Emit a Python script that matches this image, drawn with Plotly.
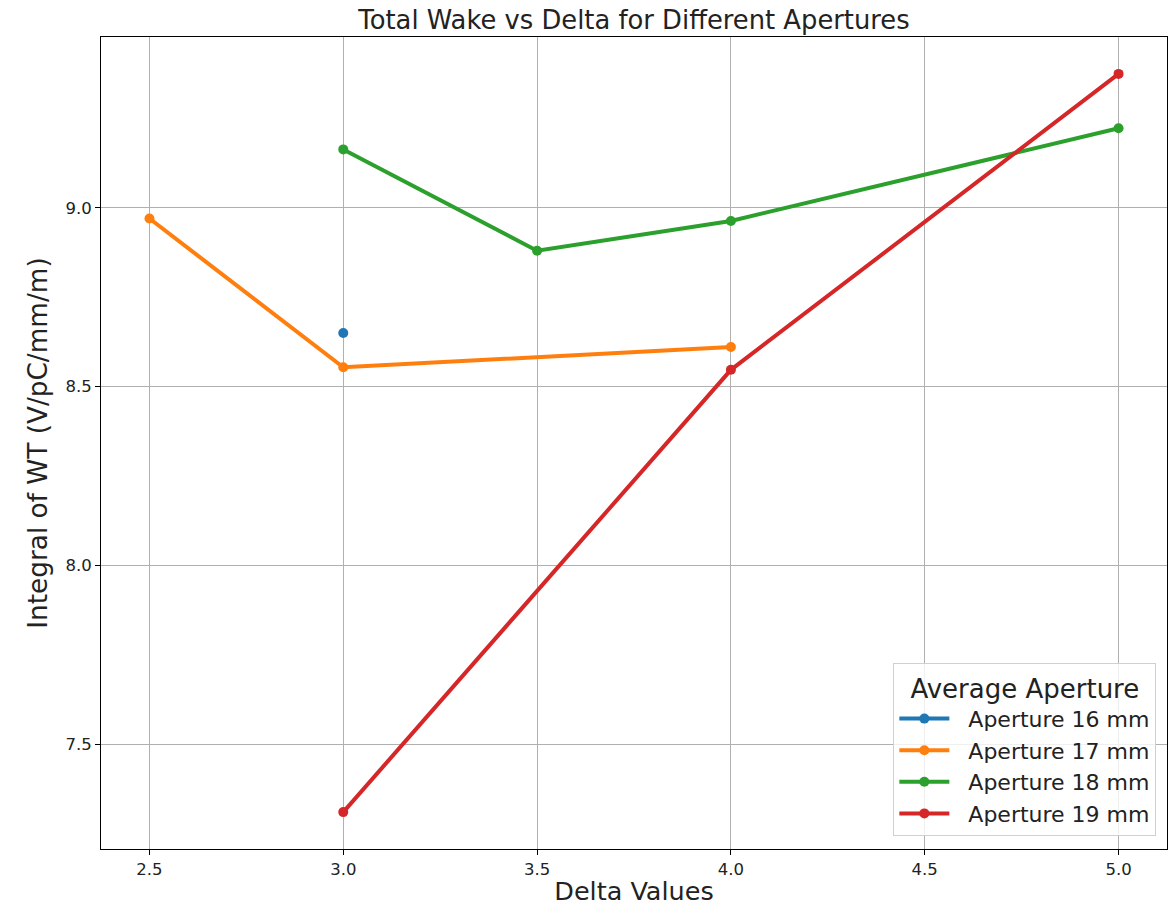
import plotly.graph_objects as go

# Wake integral per aperture, sampled at several delta values
delta_16 = [3.0]
wake_16 = [8.65]

delta_17 = [2.5, 3.0, 4.0]
wake_17 = [8.97, 8.554, 8.611]

delta_18 = [3.0, 3.5, 4.0, 5.0]
wake_18 = [9.163, 8.88, 8.963, 9.222]

delta_19 = [3.0, 4.0, 5.0]
wake_19 = [7.311, 8.547, 9.374]

series = [
    ("Aperture 16 mm", delta_16, wake_16, "#1f77b4"),
    ("Aperture 17 mm", delta_17, wake_17, "#ff7f0e"),
    ("Aperture 18 mm", delta_18, wake_18, "#2ca02c"),
    ("Aperture 19 mm", delta_19, wake_19, "#d62728"),
]

x_ticks = [2.5, 3.0, 3.5, 4.0, 4.5, 5.0]
y_ticks = [7.5, 8.0, 8.5, 9.0]

fig = go.Figure()
for name, xs, ys, color in series:
    fig.add_trace(go.Scatter(
        x=xs, y=ys,
        name="\u00a0\u00a0" + name,  # small gap between legend sample and label
        mode="lines+markers",
        line=dict(color=color, width=4),
        marker=dict(color=color, size=10),
    ))

# matplotlib-like 5% padding around the data
all_x = delta_16 + delta_17 + delta_18 + delta_19
all_y = wake_16 + wake_17 + wake_18 + wake_19
xpad = (max(all_x) - min(all_x)) * 0.05
ypad = (max(all_y) - min(all_y)) * 0.05

axis_common = dict(
    showline=True, linecolor="black", linewidth=1, mirror=True,
    showgrid=True, gridcolor="#b0b0b0", gridwidth=1,
    ticks="outside", ticklen=5, tickcolor="black",
    zeroline=False,
    tickfont=dict(size=16.5, color="#222222"),
)

fig.update_layout(
    width=1174, height=914,
    margin=dict(l=101, r=7, t=37, b=65),
    paper_bgcolor="white", plot_bgcolor="white",
    font=dict(family="DejaVu Sans", color="#222222"),
    title=dict(text="Total Wake vs Delta for Different Apertures",
               xref="paper", x=0.5, xanchor="center",
               y=1 - 20 / 914, yanchor="middle",
               font=dict(size=25.8)),
    xaxis=dict(
        range=[min(all_x) - xpad, max(all_x) + xpad],
        tickvals=x_ticks, ticktext=[f"{v:.1f}" for v in x_ticks],
        title=dict(text="Delta Values", font=dict(size=25.5), standoff=4),
        **axis_common,
    ),
    yaxis=dict(
        range=[min(all_y) - ypad, max(all_y) + ypad],
        tickvals=y_ticks, ticktext=[f"{v:.1f}" for v in y_ticks],
        title=dict(text="Integral of WT (V/pC/mm/m)", font=dict(size=26.3), standoff=10),
        **axis_common,
    ),
    legend=dict(
        title=dict(text="Average Aperture", font=dict(size=26), side="top center"),
        font=dict(size=22),
        x=0.99, y=0.016, xanchor="right", yanchor="bottom",
        bgcolor="rgba(255,255,255,0.8)", bordercolor="#d0d0d0", borderwidth=1,
        itemwidth=50,
    ),
    showlegend=True,
)

fig.write_html("out.html")
